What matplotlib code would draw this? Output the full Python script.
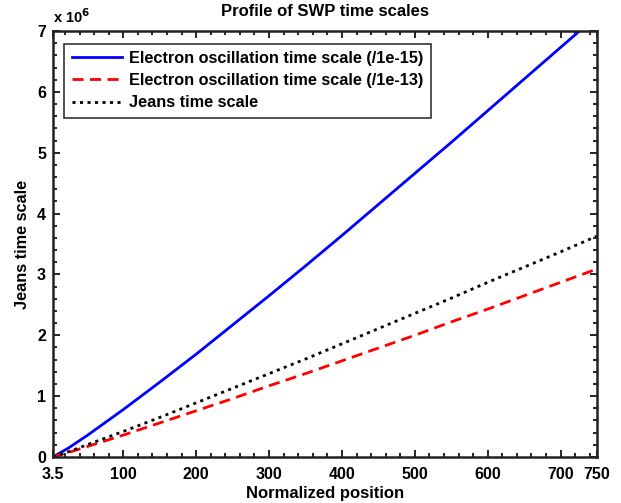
import matplotlib
matplotlib.use("Agg")
import matplotlib.pyplot as plt
from matplotlib.ticker import MultipleLocator

plt.rcParams['font.family'] = ['Liberation Sans', 'DejaVu Sans']
plt.rcParams['font.weight'] = 'bold'

x = [3.5, 25, 50, 100, 150, 200, 250, 300, 350, 400, 450, 500, 550, 600, 650, 700, 750]
electron_15 = [0.0, 0.15, 0.35, 0.78, 1.23, 1.69, 2.17, 2.65, 3.14, 3.64, 4.15, 4.66, 5.17, 5.69, 6.21, 6.73, 7.25]
electron_13 = [0.0, 0.076, 0.17, 0.36, 0.56, 0.76, 0.96, 1.17, 1.37, 1.58, 1.79, 2.00, 2.22, 2.43, 2.65, 2.87, 3.09]
jeans = [0.0, 0.087, 0.20, 0.42, 0.65, 0.89, 1.13, 1.37, 1.61, 1.86, 2.11, 2.36, 2.61, 2.87, 3.12, 3.37, 3.63]
labels = ["Electron oscillation time scale (/1e-15)",
          "Electron oscillation time scale (/1e-13)",
          "Jeans time scale"]
xticks = [3.5, 100, 200, 300, 400, 500, 600, 700, 750]
xticklabels = ["3.5", "100", "200", "300", "400", "500", "600", "700", "750"]
yticks = [0, 1, 2, 3, 4, 5, 6, 7]

fig = plt.figure(figsize=(6.21, 5.03), dpi=100)
ax = fig.add_axes([53/621, 46/503, 544/621, 426/503])

ax.plot(x, electron_15, color='#0000ff', lw=2.0, ls='-', label=labels[0])
ax.plot(x, electron_13, color='#ff0000', lw=2.0, ls=(0, (4, 2.3)), label=labels[1])
ax.plot(x, jeans, color='black', lw=2.0, ls=(0, (1.1, 1.6)), label=labels[2])

ax.set_xlim(3.5, 750)
ax.set_ylim(0, 7)
ax.set_xticks(xticks)
ax.set_xticklabels(xticklabels)
ax.set_yticks(yticks)
ax.xaxis.set_minor_locator(MultipleLocator(20))
ax.yaxis.set_minor_locator(MultipleLocator(0.2))
ax.tick_params(which='both', direction='in', top=True, right=True, labelsize=11.5, width=1.2)
ax.tick_params(which='major', length=5)
ax.tick_params(axis='x', which='major', pad=7)
ax.tick_params(axis='y', which='major', pad=5)
ax.tick_params(which='minor', length=3)
for lab in ax.get_xticklabels() + ax.get_yticklabels():
    lab.set_fontweight('bold')
for s in ax.spines.values():
    s.set_linewidth(1.8)
    s.set_color('#222222')

ax.set_title("Profile of SWP time scales", fontsize=12, fontweight='bold', pad=11)
ax.set_xlabel("Normalized position", fontsize=12, fontweight='bold', labelpad=3)
ax.set_ylabel("Jeans time scale", fontsize=11.7, fontweight='bold', labelpad=5)
ax.text(0.0, 1.012, r"x 10$^{6}$", transform=ax.transAxes, fontsize=10.5, fontweight='bold',
        ha='left', va='bottom')

leg = ax.legend(loc='upper left', bbox_to_anchor=(0.012, 0.982), fontsize=11.7, frameon=True,
                fancybox=False, edgecolor='black', handlelength=3.1, handletextpad=0.45,
                borderpad=0.45, labelspacing=0.45, borderaxespad=0.3)
leg.get_frame().set_linewidth(1.2)
for t in leg.get_texts():
    t.set_fontweight('bold')

fig.savefig("out.png", dpi=100)
